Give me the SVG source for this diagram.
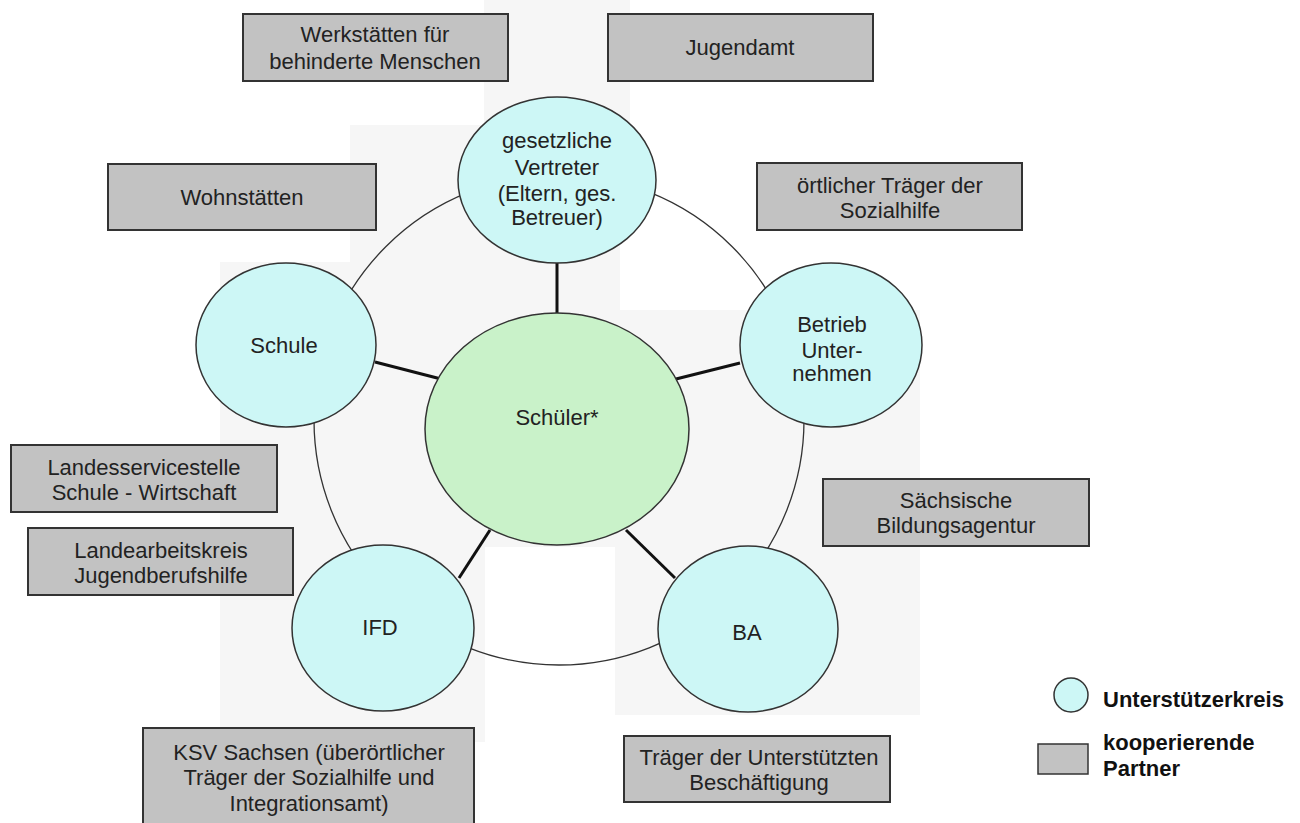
<svg xmlns="http://www.w3.org/2000/svg" width="1300" height="823" viewBox="0 0 1300 823">
<style>
.bg{fill:#f6f6f6;stroke:none}
.box{fill:#c2c2c2;stroke:#333;stroke-width:2}
.uk{fill:#cdf7f6;stroke:#333;stroke-width:1.5}
.st{fill:#c9f2c9;stroke:#333;stroke-width:1.5}
.t{font-family:"Liberation Sans",Arial,sans-serif;font-size:22px;fill:#222;text-anchor:middle}
.lg{font-family:"Liberation Sans",Arial,sans-serif;font-size:22px;font-weight:bold;fill:#111}
.spoke{stroke:#111;stroke-width:3;fill:none}
.ring{stroke:#333;stroke-width:1.3;fill:none}
</style>
<rect width="1300" height="823" fill="#fff"/>
<g id="background">
<rect class="bg" x="484" y="0" width="146" height="130"/>
<rect class="bg" x="350" y="125" width="270" height="190"/>
<rect class="bg" x="220" y="262" width="265" height="480"/>
<rect class="bg" x="484" y="310" width="140" height="237"/>
<rect class="bg" x="615" y="310" width="305" height="405"/>
</g>
<g id="connectors">
<circle class="ring" cx="559" cy="420" r="245"/>
<line class="spoke" x1="557" y1="263" x2="557" y2="313"/>
<line class="spoke" x1="375" y1="362" x2="441" y2="379"/>
<line class="spoke" x1="676" y1="379" x2="740" y2="363"/>
<line class="spoke" x1="490" y1="530" x2="459" y2="578"/>
<line class="spoke" x1="626" y1="530" x2="675" y2="578"/>
</g>
<g id="n-werkstaetten"><rect class="box" x="243" y="14" width="265" height="67"/><text class="t" x="375" y="42">Werkstätten für</text><text class="t" x="375" y="69">behinderte Menschen</text></g>
<g id="n-jugendamt"><rect class="box" x="608" y="14" width="265" height="67"/><text class="t" x="740" y="55">Jugendamt</text></g>
<g id="n-wohnstaetten"><rect class="box" x="108" y="164" width="268" height="66"/><text class="t" x="242" y="205">Wohnstätten</text></g>
<g id="n-oertlicher"><rect class="box" x="757" y="163" width="265" height="67"/><text class="t" x="890" y="193">örtlicher Träger der</text><text class="t" x="890" y="218">Sozialhilfe</text></g>
<g id="n-landesservice"><rect class="box" x="11" y="445" width="266" height="67"/><text class="t" x="144" y="475">Landesservicestelle</text><text class="t" x="144" y="500">Schule - Wirtschaft</text></g>
<g id="n-landearbeitskreis"><rect class="box" x="28" y="528" width="265" height="67"/><text class="t" x="161" y="558">Landearbeitskreis</text><text class="t" x="161" y="583">Jugendberufshilfe</text></g>
<g id="n-saechsische"><rect class="box" x="823" y="479" width="266" height="67"/><text class="t" x="956" y="508">Sächsische</text><text class="t" x="956" y="533">Bildungsagentur</text></g>
<g id="n-ksv"><rect class="box" x="143" y="728" width="331" height="100"/><text class="t" x="309" y="760">KSV Sachsen (überörtlicher</text><text class="t" x="309" y="785">Träger der Sozialhilfe und</text><text class="t" x="309" y="811">Integrationsamt)</text></g>
<g id="n-traeger"><rect class="box" x="624" y="736" width="266" height="66"/><text class="t" x="759" y="765">Träger der Unterstützten</text><text class="t" x="759" y="790">Beschäftigung</text></g>
<g id="n-gesetzliche"><ellipse class="uk" cx="557" cy="180" rx="99" ry="83"/><text class="t" x="557" y="148">gesetzliche</text><text class="t" x="557" y="175">Vertreter</text><text class="t" x="557" y="201">(Eltern, ges.</text><text class="t" x="557" y="225">Betreuer)</text></g>
<g id="n-schule"><ellipse class="uk" cx="286" cy="345" rx="90" ry="82"/><text class="t" x="284" y="353">Schule</text></g>
<g id="n-betrieb"><ellipse class="uk" cx="831" cy="345" rx="91" ry="82"/><text class="t" x="832" y="332">Betrieb</text><text class="t" x="832" y="358">Unter-</text><text class="t" x="832" y="381">nehmen</text></g>
<g id="n-schueler"><ellipse class="st" cx="557" cy="429" rx="132" ry="116"/><text class="t" x="557" y="425">Schüler*</text></g>
<g id="n-ifd"><ellipse class="uk" cx="383" cy="628" rx="91" ry="83"/><text class="t" x="380" y="635">IFD</text></g>
<g id="n-ba"><ellipse class="uk" cx="748" cy="629" rx="90" ry="83"/><text class="t" x="747" y="640">BA</text></g>
<g id="legend">
<circle class="uk" cx="1071" cy="695" r="17"/>
<text class="lg" x="1103" y="707">Unterstützerkreis</text>
<rect class="box" x="1038" y="744" width="50" height="30" style="stroke-width:1.5"/>
<text class="lg" x="1103" y="750">kooperierende</text>
<text class="lg" x="1103" y="776">Partner</text>
</g>
</svg>
